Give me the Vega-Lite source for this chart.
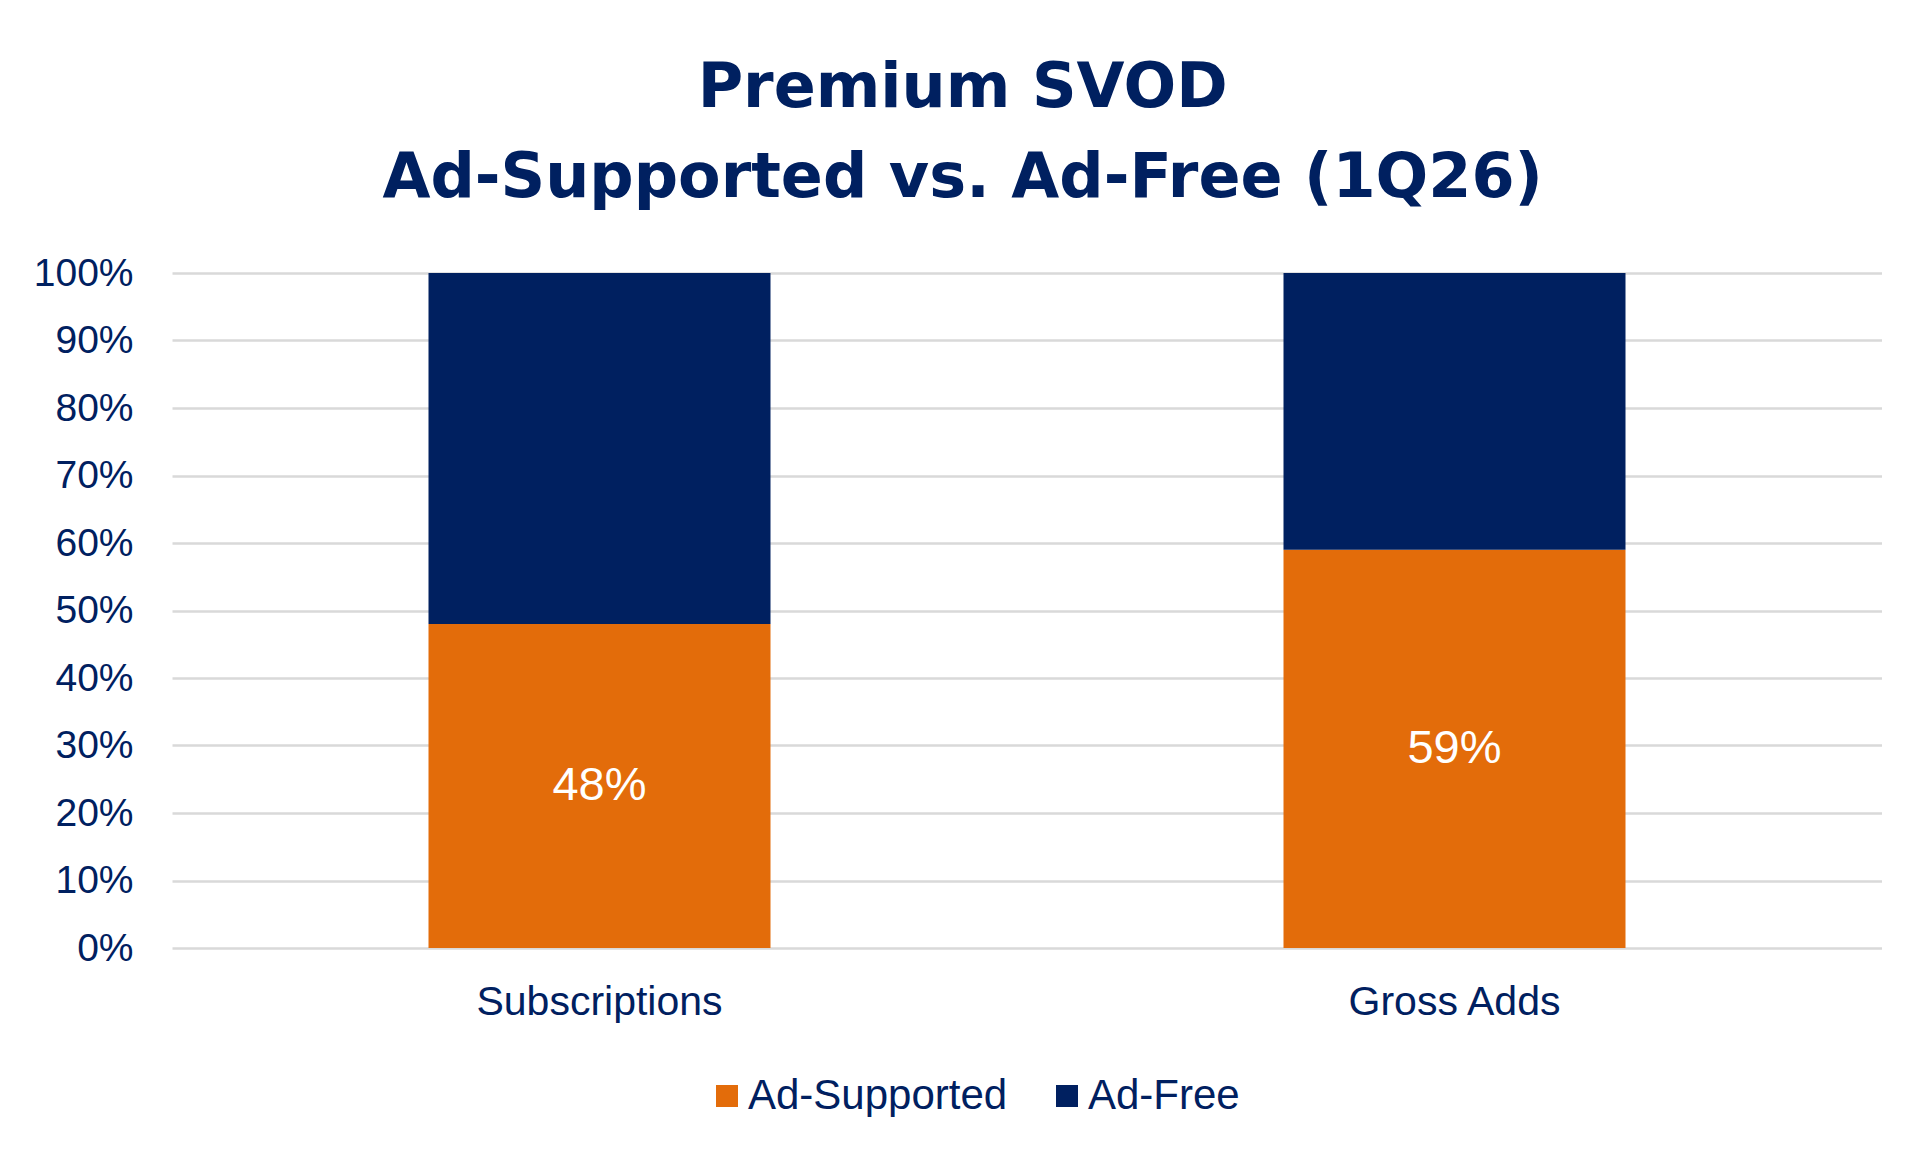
{
  "$schema": "https://vega.github.io/schema/vega-lite/v6.json",
  "width": 1710,
  "height": 675,
  "padding": {"left": 33, "top": 57, "right": 0, "bottom": 0},
  "background": "white",
  "title": {
    "text": ["Premium SVOD", "Ad-Supported vs. Ad-Free (1Q26)"],
    "font": "DejaVu Sans",
    "fontSize": 62,
    "fontWeight": "bold",
    "color": "#002060",
    "lineHeight": 90,
    "anchor": "middle",
    "frame": "bounds",
    "offset": 44,
    "dx": 5
  },
  "data": {
    "values": [
      {"metric": "Subscriptions", "segment": "Ad-Supported", "k": 1, "share": 0.48},
      {"metric": "Subscriptions", "segment": "Ad-Free", "k": 2, "share": 0.52},
      {"metric": "Gross Adds", "segment": "Ad-Supported", "k": 1, "share": 0.59},
      {"metric": "Gross Adds", "segment": "Ad-Free", "k": 2, "share": 0.41}
    ]
  },
  "encoding": {
    "x": {
      "field": "metric",
      "type": "nominal",
      "sort": ["Subscriptions", "Gross Adds"],
      "title": null,
      "scale": {"paddingInner": 0, "paddingOuter": 0}
    }
  },
  "layer": [
    {
      "mark": {"type": "bar", "width": {"band": 0.4}},
      "encoding": {
        "y": {
          "field": "share",
          "type": "quantitative",
          "stack": "zero",
          "title": null,
          "scale": {"domain": [0, 1]}
        },
        "color": {
          "field": "segment",
          "type": "nominal",
          "scale": {"domain": ["Ad-Supported", "Ad-Free"], "range": ["#E36C0A", "#002060"]},
          "legend": {
            "title": null,
            "orient": "none",
            "legendX": 534,
            "legendY": 802,
            "direction": "horizontal",
            "symbolType": "square",
            "symbolSize": 484,
            "symbolStrokeWidth": 0,
            "labelFont": "Liberation Sans",
            "labelFontSize": 42,
            "labelColor": "#002060",
            "labelOffset": 0,
            "labelLimit": 0,
            "columnPadding": 38
          }
        },
        "order": {"field": "k", "type": "quantitative"}
      }
    },
    {
      "transform": [
        {"filter": "datum.segment === 'Ad-Supported'"},
        {"calculate": "datum.share / 2", "as": "mid"}
      ],
      "mark": {"type": "text", "color": "white", "fontSize": 47, "font": "Liberation Sans", "baseline": "middle"},
      "encoding": {
        "y": {"field": "mid", "type": "quantitative", "title": null},
        "text": {"field": "share", "type": "quantitative", "format": ".0%"}
      }
    }
  ],
  "config": {
    "view": {"stroke": null},
    "axisX": {
      "labelAngle": 0,
      "labelFont": "Liberation Sans",
      "labelFontSize": 41,
      "labelColor": "#002060",
      "labelPadding": 34,
      "labelLimit": 0,
      "ticks": false,
      "domain": false,
      "grid": false
    },
    "axisY": {
      "format": ".0%",
      "tickCount": 10,
      "labelFont": "Liberation Sans",
      "labelFontSize": 39,
      "labelColor": "#002060",
      "labelPadding": 39,
      "labelLimit": 0,
      "ticks": false,
      "domain": false,
      "grid": true,
      "gridColor": "#D9D9D9",
      "gridWidth": 2.5
    }
  }
}
